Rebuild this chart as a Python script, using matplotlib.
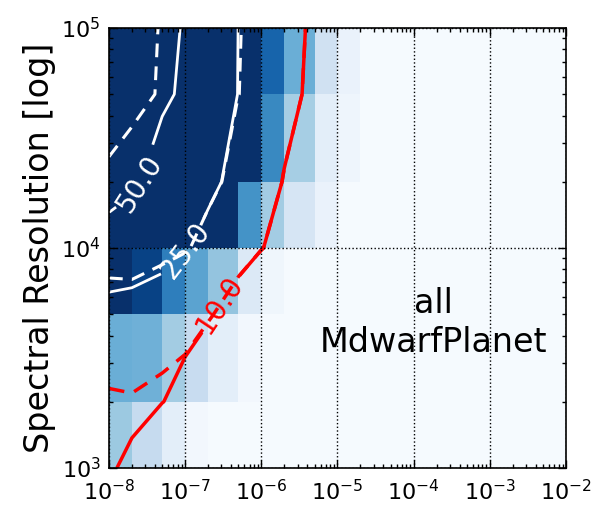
import numpy as np
import matplotlib
matplotlib.use("Agg")
import matplotlib.pyplot as plt
from matplotlib.ticker import LogLocator, NullFormatter

plt.rcParams['axes.unicode_minus'] = False

# grid of the scan: amplitude (x) and spectral resolution (y)
amp_edges = [1e-8, 2e-8, 5e-8, 1e-7, 2e-7, 5e-7, 1e-6, 2e-6, 5e-6, 1e-5,
             2e-5, 5e-5, 1e-4, 2e-4, 5e-4, 1e-3, 2e-3, 5e-3, 1e-2]
res_edges = [1e3, 2e3, 5e3, 1e4, 2e4, 5e4, 1e5]

# colour of each cell (fraction of full scale), rows from R=1e3 upwards
cell_frac = [
    [0.38, 0.25, 0.10, 0.03, 0.01, 0.01, 0.01, 0.01, 0.01, 0.01, 0.01, 0.01, 0.01, 0.01, 0.01, 0.01, 0.01, 0.01],
    [0.50, 0.49, 0.36, 0.24, 0.10, 0.03, 0.01, 0.01, 0.01, 0.01, 0.01, 0.01, 0.01, 0.01, 0.01, 0.01, 0.01, 0.01],
    [1.00, 0.93, 0.70, 0.55, 0.40, 0.14, 0.04, 0.01, 0.01, 0.01, 0.01, 0.01, 0.01, 0.01, 0.01, 0.01, 0.01, 0.01],
    [1.00, 1.00, 1.00, 1.00, 1.00, 0.62, 0.36, 0.17, 0.07, 0.01, 0.01, 0.01, 0.01, 0.01, 0.01, 0.01, 0.01, 0.01],
    [1.00, 1.00, 1.00, 1.00, 1.00, 1.00, 0.66, 0.35, 0.10, 0.05, 0.01, 0.01, 0.01, 0.01, 0.01, 0.01, 0.01, 0.01],
    [1.00, 1.00, 1.00, 1.00, 1.00, 1.00, 0.80, 0.50, 0.20, 0.07, 0.01, 0.01, 0.01, 0.01, 0.01, 0.01, 0.01, 0.01],
]

# values on the grid points used for the contours
snr_main = [
    [12.0, 4.6, 2.0, 1.0, 0.5, 0.3, 0.2, 0.1, 0.1, 0.1, 0.1, 0.1, 0.1, 0.1, 0.1, 0.1, 0.1, 0.1, 0.1],
    [22.0, 19.2, 10.2, 6.0, 4.0, 2.0, 1.5, 1.0, 0.5, 0.3, 0.2, 0.1, 0.1, 0.1, 0.1, 0.1, 0.1, 0.1, 0.1],
    [19.1, 20.3, 18.0, 16.0, 10.9, 3.5, 3.0, 2.0, 1.0, 0.5, 0.3, 0.2, 0.1, 0.1, 0.1, 0.1, 0.1, 0.1, 0.1],
    [41.8, 35.0, 31.0, 25.6, 20.0, 17.0, 10.3, 6.0, 3.0, 1.5, 0.8, 0.4, 0.2, 0.1, 0.1, 0.1, 0.1, 0.1, 0.1],
    [60.0, 53.75, 35.0, 32.0, 30.0, 15.0, 13.0, 9.55, 4.0, 2.0, 1.0, 0.5, 0.3, 0.2, 0.1, 0.1, 0.1, 0.1, 0.1],
    [75.0, 68.0, 57.9, 40.0, 36.0, 24.5, 18.0, 14.0, 5.6, 2.5, 1.2, 0.6, 0.3, 0.2, 0.1, 0.1, 0.1, 0.1, 0.1],
    [80.0, 72.0, 65.4, 44.0, 38.0, 24.8, 20.0, 15.0, 6.67, 3.0, 1.5, 0.8, 0.4, 0.2, 0.1, 0.1, 0.1, 0.1, 0.1],
]
snr_alt = [
    [8.0, 4.6, 2.0, 1.0, 0.5, 0.3, 0.2, 0.1, 0.1, 0.1, 0.1, 0.1, 0.1, 0.1, 0.1, 0.1, 0.1, 0.1, 0.1],
    [9.0, 9.3, 7.56, 5.5, 4.0, 2.0, 1.5, 1.0, 0.5, 0.3, 0.2, 0.1, 0.1, 0.1, 0.1, 0.1, 0.1, 0.1, 0.1],
    [19.0, 20.3, 18.0, 16.0, 10.9, 3.5, 3.0, 2.0, 1.0, 0.5, 0.3, 0.2, 0.1, 0.1, 0.1, 0.1, 0.1, 0.1, 0.1],
    [32.0, 31.0, 28.3, 26.0, 20.0, 17.0, 10.3, 6.0, 3.0, 1.5, 0.8, 0.4, 0.2, 0.1, 0.1, 0.1, 0.1, 0.1, 0.1],
    [46.0, 40.0, 35.0, 32.0, 30.0, 15.5, 13.0, 9.55, 4.0, 2.0, 1.0, 0.5, 0.3, 0.2, 0.1, 0.1, 0.1, 0.1, 0.1],
    [66.0, 59.3, 45.4, 40.0, 36.0, 25.2, 18.0, 14.0, 5.6, 2.5, 1.2, 0.6, 0.3, 0.2, 0.1, 0.1, 0.1, 0.1, 0.1],
    [70.0, 70.0, 45.0, 44.0, 38.0, 25.5, 20.0, 15.0, 6.67, 3.0, 1.5, 0.8, 0.4, 0.2, 0.1, 0.1, 0.1, 0.1, 0.1],
]
levels = [10, 25, 50]
level_colors = ['red', 'white', 'white']

fig = plt.figure(figsize=(5.91, 5.08), dpi=100)
ax = fig.add_axes([0.1844, 0.0787, 0.7733, 0.8662])

X, Y = np.meshgrid(amp_edges, res_edges)
ax.pcolormesh(X, Y, np.array(cell_frac), cmap='Blues', vmin=0, vmax=1)

ax.set_xscale('log')
ax.set_yscale('log')
ax.set_xlim(1e-8, 1e-2)
ax.set_ylim(1e3, 1e5)
for axis in (ax.xaxis, ax.yaxis):
    axis.set_major_locator(LogLocator(base=10, numticks=20))
    axis.set_minor_locator(LogLocator(base=10, subs=np.arange(2, 10), numticks=20))
    axis.set_minor_formatter(NullFormatter())

ax.grid(True, which='major', color='k', linestyle=':', linewidth=1)
ax.set_axisbelow(False)

cs_alt = ax.contour(X, Y, np.array(snr_alt), levels=levels, colors=level_colors,
                    linewidths=[2.5, 2.2, 2.2], linestyles=[(0, (4.5, 3))])
cs = ax.contour(X, Y, np.array(snr_main), levels=levels, colors=level_colors,
                linewidths=[2.5, 2.0, 2.0])
ax.clabel(cs, fmt='%.1f', fontsize=20, inline=True, inline_spacing=4,
          manual=[(2.9e-7, 5.5e3), (1.1e-7, 9.5e3), (2.7e-8, 1.93e4)])

ax.text(0.71, 0.33, 'all\nMdwarfPlanet', transform=ax.transAxes,
        ha='center', va='center', fontsize=24, linespacing=1.25)

ax.set_ylabel('Spectral Resolution [log]', fontsize=24, labelpad=4)
ax.tick_params(which='both', direction='in', top=True, right=True, labelsize=16)
ax.tick_params(which='major', length=5.5, width=1, pad=6)
ax.tick_params(axis='x', which='major', pad=8)
ax.tick_params(which='minor', length=2.8, width=1)
for s in ax.spines.values():
    s.set_linewidth(1.2)

fig.savefig('out.png', dpi=100)
